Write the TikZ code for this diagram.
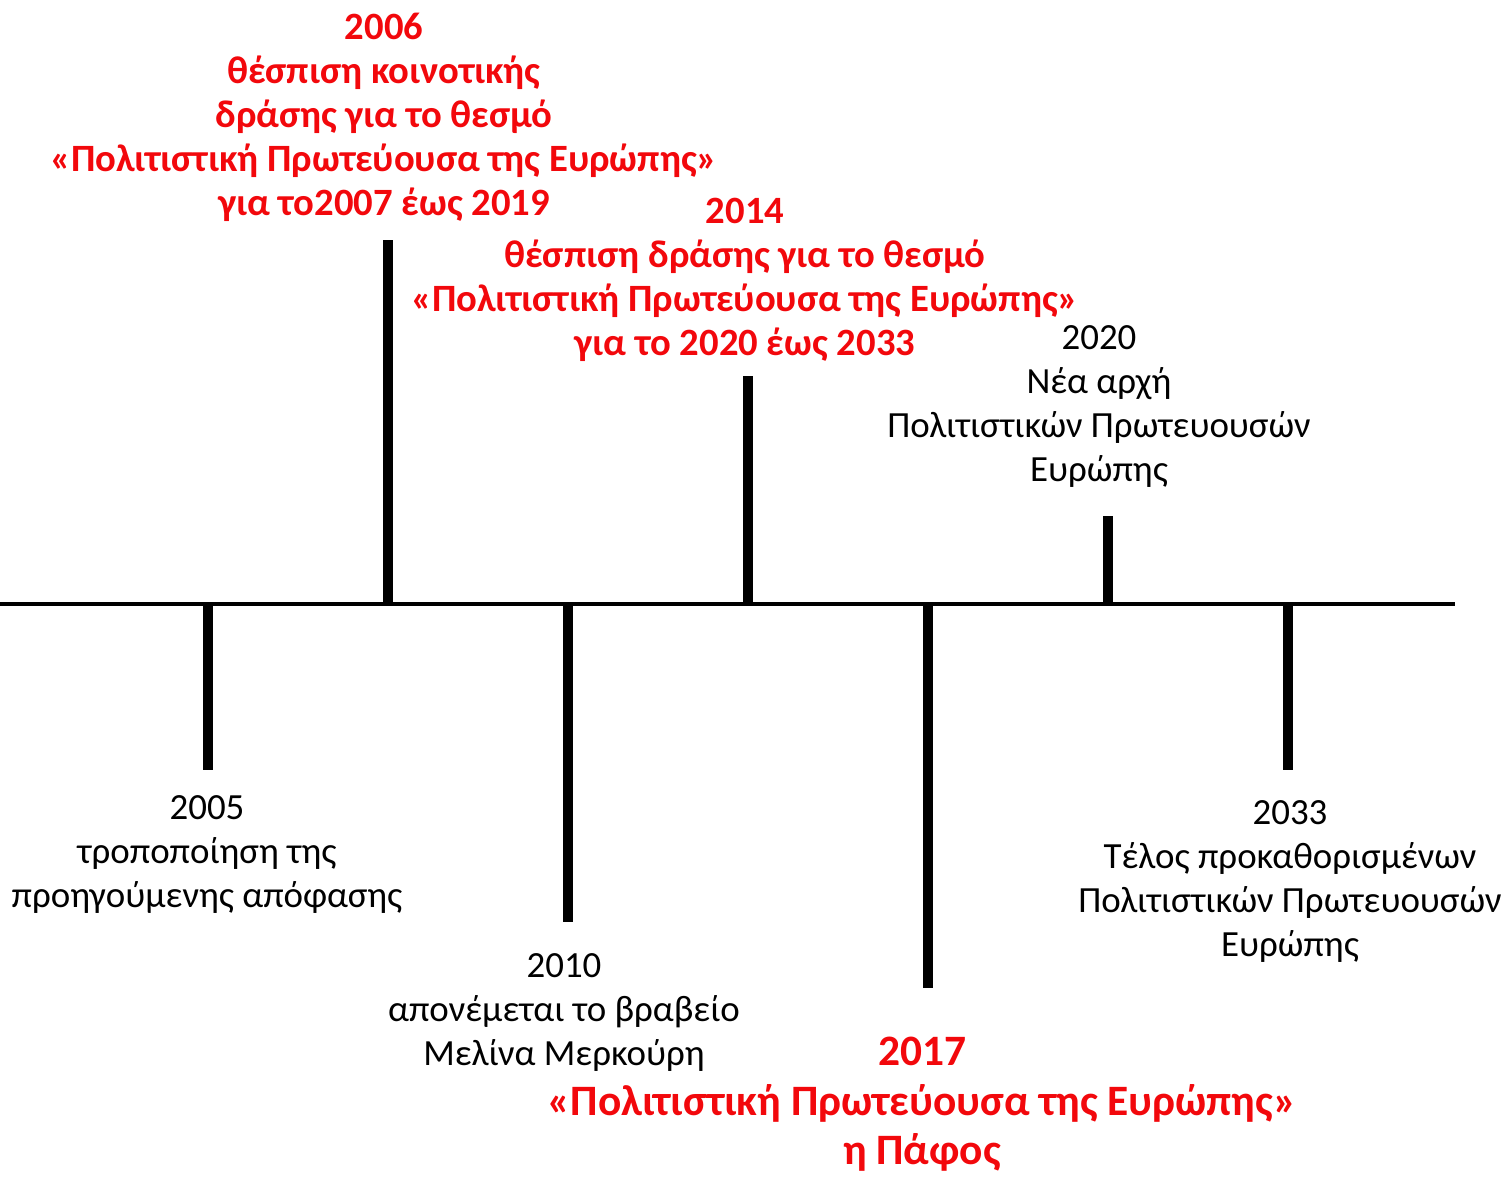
\documentclass[tikz,border=0pt]{standalone}
\usepackage{fontspec}
\setmainfont{Carlito}
\usetikzlibrary{positioning}

\definecolor{evred}{RGB}{242,8,12}

\begin{document}
\begin{tikzpicture}[
		x=0.02cm, y=-0.02cm,
		axisline/.style={line width=2.3pt},
		tickline/.style={line width=5.7pt},
		plainlabel/.style={
			anchor=north,
			align=center,
			inner sep=0pt,
			font=\fontsize{21}{25}\selectfont,
		},
		redlabel/.style={
			plainlabel,
			text=evred,
			font=\fontsize{22}{25}\selectfont\bfseries,
		},
	]

		\useasboundingbox (0,0) rectangle (1509,1178);

		% Axe
		\coordinate (start) at (0,604);
		\coordinate (stop) at (1455,604);
		\draw[axisline] (start) -- (stop);

		% Points sur l'axe
		\coordinate (y2005) at (208,604);
		\coordinate (y2006) at (388,604);
		\coordinate (y2010) at (568,604);
		\coordinate (y2014) at (748,604);
		\coordinate (y2017) at (928,604);
		\coordinate (y2020) at (1108,604);
		\coordinate (y2033) at (1288,604);

		% Extremites des traits
		\coordinate (e2005) at (208,770);
		\coordinate (e2006) at (388,240);
		\coordinate (e2010) at (568,922);
		\coordinate (e2014) at (748,376);
		\coordinate (e2017) at (928,988);
		\coordinate (e2020) at (1108,516);
		\coordinate (e2033) at (1288,770);

		\draw[tickline] (y2005) -- (e2005);
		\draw[tickline] (y2006) -- (e2006);
		\draw[tickline] (y2010) -- (e2010);
		\draw[tickline] (y2014) -- (e2014);
		\draw[tickline] (y2017) -- (e2017);
		\draw[tickline] (y2020) -- (e2020);
		\draw[tickline] (y2033) -- (e2033);

		% Textes
		\node[redlabel] (t2006) at (384,13) {2006\\θέσπιση κοινοτικής\\δράσης για το θεσμό\\«Πολιτιστική Πρωτεύουσα της Ευρώπης»\\για το2007 έως 2019};
		\node[redlabel] (t2014) at (745,198) {2014\\θέσπιση δράσης για το θεσμό\\«Πολιτιστική Πρωτεύουσα της Ευρώπης»\\για το 2020 έως 2033};
		\node[plainlabel] (t2020) at (1099,325) {2020\\Νέα αρχή\\Πολιτιστικών Πρωτευουσών\\Ευρώπης};
		\node[plainlabel] (t2005) at (207,795) {2005\\τροποποίηση της\\προηγούμενης απόφασης};
		\node[plainlabel] (t2010) at (564,953) {2010\\απονέμεται το βραβείο\\Μελίνα Μερκούρη};
		\node[redlabel, font=\fontsize{24.7}{28}\selectfont\bfseries] (t2017) at (922,1037) {2017\\«Πολιτιστική Πρωτεύουσα της Ευρώπης»\\η Πάφος};
		\node[plainlabel] (t2033) at (1290,800) {2033\\Τέλος προκαθορισμένων\\Πολιτιστικών Πρωτευουσών\\Ευρώπης};

	\end{tikzpicture}
\end{document}
